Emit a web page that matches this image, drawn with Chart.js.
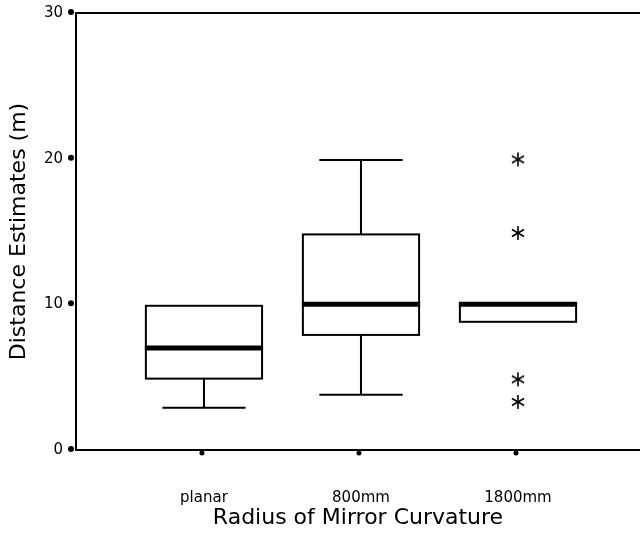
<!DOCTYPE html>
<html>
<head>
<meta charset="utf-8">
<script src="https://cdn.jsdelivr.net/npm/chart.js@4.4.1/dist/chart.umd.min.js"></script>
<style>
  html, body { margin: 0; padding: 0; background: #fff; }
  #wrap { width: 640px; height: 534px; }
</style>
</head>
<body>
<div id="wrap"><canvas id="chart"></canvas></div>
<script>
// data
const categories = ["planar", "800mm", "1800mm"];
const positions = [1, 2, 3];
const whiskerLow = [2.9, 3.8, 8.8];
const q1 = [4.9, 7.9, 8.8];
const median = [7.0, 10.0, 10.0];
const q3 = [9.9, 14.8, 10.0];
const whiskerHigh = [9.9, 19.9, 10.0];
const outliers = [[], [], [19.95, 14.9, 4.85, 3.3]];
const yTicks = [0, 10, 20, 30];

const BOX_W = 0.74;   // in x units
const CAP_W = 0.53;

// six armed asterisk used for the outliers
function makeStar(size) {
  const c = document.createElement("canvas");
  c.width = size; c.height = size;
  const g = c.getContext("2d");
  const r = size / 2 - 1;
  g.strokeStyle = "#000";
  g.lineWidth = 1.6;
  g.translate(size / 2, size / 2);
  for (let k = 0; k < 3; k++) {
    const a = Math.PI / 2 + k * Math.PI / 3;
    g.beginPath();
    g.moveTo(Math.cos(a) * r, Math.sin(a) * r);
    g.lineTo(-Math.cos(a) * r, -Math.sin(a) * r);
    g.stroke();
  }
  return c;
}
const star = makeStar(16);

const outlierPoints = [];
outliers.forEach((list, i) => list.forEach(v => outlierPoints.push({ x: positions[i], y: v })));

const boxPlugin = {
  id: "boxes",
  beforeDatasetsDraw(chart) {
    const { ctx, scales: { x, y } } = chart;
    ctx.save();
    ctx.strokeStyle = "#000";
    categories.forEach((c, i) => {
      const cx = x.getPixelForValue(positions[i]);
      const bl = x.getPixelForValue(positions[i] - BOX_W / 2);
      const br = x.getPixelForValue(positions[i] + BOX_W / 2);
      const cl = x.getPixelForValue(positions[i] - CAP_W / 2);
      const cr = x.getPixelForValue(positions[i] + CAP_W / 2);
      const yq1 = y.getPixelForValue(q1[i]);
      const yq3 = y.getPixelForValue(q3[i]);
      const ylo = y.getPixelForValue(whiskerLow[i]);
      const yhi = y.getPixelForValue(whiskerHigh[i]);
      const ymed = y.getPixelForValue(median[i]);
      ctx.lineWidth = 2;
      // whiskers
      if (whiskerHigh[i] > q3[i]) {
        ctx.beginPath();
        ctx.moveTo(cx, yq3); ctx.lineTo(cx, yhi);
        ctx.moveTo(cl, yhi); ctx.lineTo(cr, yhi);
        ctx.stroke();
      }
      if (whiskerLow[i] < q1[i]) {
        ctx.beginPath();
        ctx.moveTo(cx, yq1); ctx.lineTo(cx, ylo);
        ctx.moveTo(cl, ylo); ctx.lineTo(cr, ylo);
        ctx.stroke();
      }
      ctx.strokeRect(bl, yq3, br - bl, yq1 - yq3);
      // median
      ctx.lineWidth = 5;
      ctx.beginPath();
      ctx.moveTo(bl - 1, ymed); ctx.lineTo(br + 1, ymed);
      ctx.stroke();
    });
    ctx.restore();
  },
  afterDraw(chart) {
    const { ctx, chartArea, scales: { x, y } } = chart;
    ctx.save();
    // top frame line
    ctx.strokeStyle = "#000";
    ctx.lineWidth = 2;
    ctx.beginPath();
    ctx.moveTo(chartArea.left - 1, chartArea.top);
    ctx.lineTo(chartArea.right, chartArea.top);
    ctx.stroke();
    // tick dots
    ctx.fillStyle = "#000";
    yTicks.forEach(v => {
      ctx.beginPath();
      ctx.arc(chartArea.left - 5, y.getPixelForValue(v) - 1, 3, 0, Math.PI * 2);
      ctx.fill();
    });
    positions.forEach(p => {
      ctx.beginPath();
      ctx.arc(x.getPixelForValue(p) - 2, chartArea.bottom + 3, 2.5, 0, Math.PI * 2);
      ctx.fill();
    });
    ctx.restore();
  }
};

new Chart(document.getElementById("chart"), {
  type: "scatter",
  data: {
    datasets: [{
      label: "outliers",
      data: outlierPoints,
      pointStyle: star,
      pointRadius: 7,
      pointHoverRadius: 7
    }]
  },
  options: {
    responsive: true,
    maintainAspectRatio: false,
    animation: false,
    events: [],
    layout: { autoPadding: false, padding: { top: 13, right: 0, left: 0, bottom: 0 } },
    plugins: { legend: { display: false }, tooltip: { enabled: false } },
    scales: {
      x: {
        type: "linear",
        min: 0.185,
        max: 3.777,
        afterBuildTicks: (scale) => { scale.ticks = positions.map(v => ({ value: v })); },
        afterFit: (scale) => {
          scale.height = 84;
          scale.paddingLeft = 0;
          scale.paddingRight = 0;
        },
        grid: { display: false, drawTicks: false },
        border: { display: true, color: "#000", width: 2 },
        ticks: {
          autoSkip: false,
          maxRotation: 0,
          padding: 39,
          color: "#000",
          font: { family: "DejaVu Sans", size: 15 },
          callback: (v, i) => categories[i]
        },
        title: {
          display: true,
          text: "Radius of Mirror Curvature",
          color: "#000",
          font: { family: "DejaVu Sans", size: 22 },
          padding: { top: 0, bottom: 3 }
        }
      },
      y: {
        min: 0,
        max: 30,
        afterBuildTicks: (scale) => { scale.ticks = yTicks.map(v => ({ value: v })); },
        afterFit: (scale) => {
          scale.width = 76;
          scale.paddingTop = 0;
          scale.paddingBottom = 0;
        },
        grid: { display: false, drawTicks: false },
        border: { display: true, color: "#000", width: 2 },
        ticks: {
          padding: 13,
          labelOffset: 0,
          color: "#000",
          font: { family: "DejaVu Sans", size: 15 }
        },
        title: {
          display: true,
          text: "Distance Estimates (m)",
          color: "#000",
          font: { family: "DejaVu Sans", size: 22 },
          padding: { top: 6, bottom: 0 }
        }
      }
    }
  },
  plugins: [boxPlugin]
});
</script>
</body>
</html>
